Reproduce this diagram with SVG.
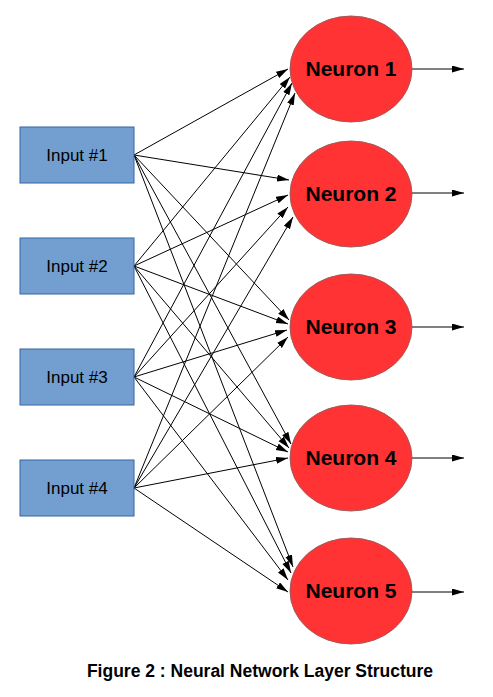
<svg xmlns="http://www.w3.org/2000/svg" width="493" height="697" viewBox="0 0 493 697">
  <style>
    .inp rect { fill: #729fcf; stroke: #3465a4; stroke-width: 1; }
    .inp text { font-family: "Liberation Sans", Arial, sans-serif; font-size: 17px; fill: #000; text-anchor: middle; }
    .neu ellipse { fill: #ff3333; stroke: #a05a5a; stroke-width: 1; }
    .neu text { font-family: "Liberation Sans", Arial, sans-serif; font-size: 21px; font-weight: bold; fill: #000; text-anchor: middle; }
    #connectors line { stroke: #000; stroke-width: 1; marker-end: url(#arrow); }
    .caption { font-family: "Liberation Sans", Arial, sans-serif; font-size: 17.5px; font-weight: bold; fill: #000; text-anchor: middle; }
  </style>
  <defs>
    <marker id="arrow" markerUnits="userSpaceOnUse" markerWidth="12" markerHeight="8" refX="12" refY="3.5" orient="auto">
      <path d="M0,0 L12,3.5 L0,7 z" fill="#000"/>
    </marker>
  </defs>
  <rect width="493" height="697" fill="#fff"/>

  <g id="connectors">
    <!-- Input 1 -->
    <line x1="134" y1="155" x2="288" y2="69"/>
    <line x1="134" y1="155" x2="289" y2="180"/>
    <line x1="134" y1="155" x2="289" y2="320"/>
    <line x1="134" y1="155" x2="291" y2="444"/>
    <line x1="134" y1="155" x2="293" y2="567"/>
    <!-- Input 2 -->
    <line x1="134" y1="266" x2="290" y2="77"/>
    <line x1="134" y1="266" x2="288" y2="195"/>
    <line x1="134" y1="266" x2="288" y2="324"/>
    <line x1="134" y1="266" x2="289" y2="448"/>
    <line x1="134" y1="266" x2="291" y2="573"/>
    <!-- Input 3 -->
    <line x1="134" y1="377" x2="292" y2="83"/>
    <line x1="134" y1="377" x2="288" y2="207"/>
    <line x1="134" y1="377" x2="287" y2="330"/>
    <line x1="134" y1="377" x2="288" y2="452"/>
    <line x1="134" y1="377" x2="288" y2="580"/>
    <!-- Input 4 -->
    <line x1="134" y1="488" x2="295" y2="93"/>
    <line x1="134" y1="488" x2="293" y2="217"/>
    <line x1="134" y1="488" x2="288" y2="337"/>
    <line x1="134" y1="488" x2="288" y2="458"/>
    <line x1="134" y1="488" x2="288" y2="592"/>
    <!-- Outputs -->
    <line x1="412" y1="69" x2="464" y2="69"/>
    <line x1="412" y1="193" x2="464" y2="193"/>
    <line x1="412" y1="327" x2="464" y2="327"/>
    <line x1="412" y1="458" x2="464" y2="458"/>
    <line x1="412" y1="592" x2="464" y2="592"/>
  </g>

  <g id="input1" class="inp"><rect x="20" y="127" width="114" height="56"/><text x="77" y="161">Input #1</text></g>
  <g id="input2" class="inp"><rect x="20" y="238" width="114" height="56"/><text x="77" y="272">Input #2</text></g>
  <g id="input3" class="inp"><rect x="20" y="349" width="114" height="56"/><text x="77" y="383">Input #3</text></g>
  <g id="input4" class="inp"><rect x="20" y="460" width="114" height="56"/><text x="77" y="494">Input #4</text></g>

  <g id="neuron1" class="neu"><ellipse cx="351" cy="69" rx="61" ry="53"/><text x="351" y="76">Neuron 1</text></g>
  <g id="neuron2" class="neu"><ellipse cx="351" cy="194" rx="61" ry="53"/><text x="351" y="201">Neuron 2</text></g>
  <g id="neuron3" class="neu"><ellipse cx="351" cy="327" rx="61" ry="53"/><text x="351" y="334">Neuron 3</text></g>
  <g id="neuron4" class="neu"><ellipse cx="351" cy="458" rx="61" ry="53"/><text x="351" y="465">Neuron 4</text></g>
  <g id="neuron5" class="neu"><ellipse cx="351" cy="591" rx="61" ry="53"/><text x="351" y="598">Neuron 5</text></g>

  <text class="caption" x="260" y="677">Figure 2 : Neural Network Layer Structure</text>
</svg>
